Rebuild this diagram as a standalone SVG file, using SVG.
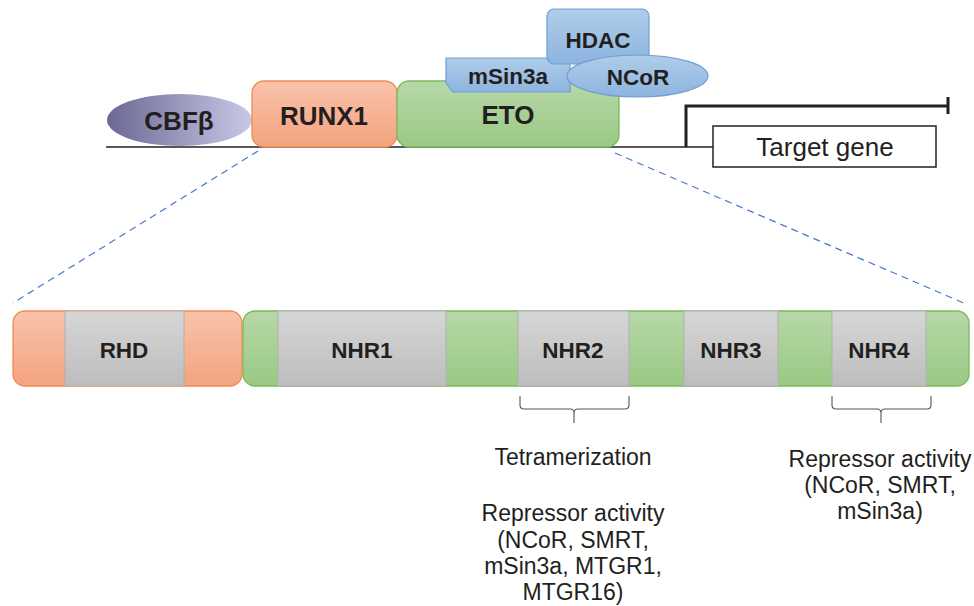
<svg xmlns="http://www.w3.org/2000/svg" width="974" height="606" viewBox="0 0 974 606">
<defs>
<linearGradient id="gCbf" x1="0" y1="0" x2="1" y2="0"><stop offset="0" stop-color="#6b6894"/><stop offset="1" stop-color="#cac8e6"/></linearGradient>
<linearGradient id="gOr" x1="0" y1="0" x2="0" y2="1"><stop offset="0" stop-color="#f8c3ab"/><stop offset="1" stop-color="#f4a37e"/></linearGradient>
<linearGradient id="gGr" x1="0" y1="0" x2="0" y2="1"><stop offset="0" stop-color="#b7d8a8"/><stop offset="1" stop-color="#9ac983"/></linearGradient>
<linearGradient id="gBl" x1="0" y1="0" x2="0" y2="1"><stop offset="0" stop-color="#b0cdea"/><stop offset="1" stop-color="#8db4df"/></linearGradient>
<linearGradient id="gGy" x1="0" y1="0" x2="0" y2="1"><stop offset="0" stop-color="#d6d6d6"/><stop offset="1" stop-color="#bdbdbd"/></linearGradient>
</defs>
<style>
.b{font-family:"Liberation Sans",Arial,sans-serif;font-weight:bold;fill:#231f20;text-anchor:middle}
.n{font-family:"Liberation Sans",Arial,sans-serif;fill:#231f20;text-anchor:middle;font-size:23px}
.or{fill:url(#gOr);stroke:#ee8c52;stroke-width:1.3}
.gr{fill:url(#gGr);stroke:#7cb85c;stroke-width:1.3}
.bl{fill:url(#gBl);stroke:#6c9fd3;stroke-width:1.2}
.gy{fill:url(#gGy);stroke:#b0b0b0;stroke-width:1}
.dash{stroke:#4a78c8;stroke-width:1.2;stroke-dasharray:7 5;fill:none}
.brace{stroke:#555;stroke-width:1.1;fill:none}
</style>
<g id="connectors">
<line x1="106" y1="147" x2="713" y2="147" stroke="#231f20" stroke-width="1.5"/>
<path d="M686,147 V106 H948" stroke="#231f20" stroke-width="3" fill="none"/>
<line x1="948" y1="97" x2="948" y2="114" stroke="#231f20" stroke-width="3"/>
<line class="dash" x1="258" y1="151" x2="13" y2="303"/>
<line class="dash" x1="615" y1="153" x2="966" y2="304"/>
<path class="brace" d="M520,396 V405 Q520,409 524,409 H570 Q574,409 574,413 V423 M574,413 Q574,409 578,409 H625 Q629,409 629,405 V396"/>
<path class="brace" d="M832,396 V405 Q832,409 836,409 H877 Q881,409 881,413 V423 M881,413 Q881,409 885,409 H927 Q931,409 931,405 V396"/>
</g>
<g id="cbfb"><ellipse cx="179.5" cy="120" rx="72.5" ry="26" fill="url(#gCbf)"/><text class="b" x="179" y="130" font-size="26">CBFβ</text></g>
<g id="runx1"><rect class="or" x="252" y="81" width="145" height="66" rx="12"/><text class="b" x="324" y="125" font-size="26">RUNX1</text></g>
<g id="eto"><rect class="gr" x="397" y="81" width="222" height="66" rx="12"/><text class="b" x="508" y="124" font-size="26">ETO</text></g>
<g id="msin3a"><path class="bl" d="M446,58 H570 V92 H453 L446,83 Z"/><text class="b" x="508" y="84" font-size="22.5">mSin3a</text></g>
<g id="hdac"><rect class="bl" x="547" y="9" width="102" height="55" rx="7"/><text class="b" x="598" y="48" font-size="22.5">HDAC</text></g>
<g id="ncor"><ellipse class="bl" cx="637.5" cy="76" rx="70.5" ry="21"/><text class="b" x="638" y="85" font-size="22.5">NCoR</text></g>
<g id="target"><rect x="713" y="126" width="223" height="41" fill="#fff" stroke="#231f20" stroke-width="1.5"/><text class="n" x="825" y="156" style="font-size:26px">Target gene</text></g>
<g id="runx1-bar">
<rect class="or" x="13" y="311" width="229" height="75" rx="12"/>
<rect class="gy" x="65" y="311" width="119" height="75"/>
<text class="b" x="124" y="358" font-size="22.5">RHD</text>
</g>
<g id="eto-bar">
<rect class="gr" x="243" y="311" width="726" height="75" rx="12"/>
<rect class="gy" x="278" y="311" width="168" height="75"/>
<rect class="gy" x="518" y="311" width="111" height="75"/>
<rect class="gy" x="684" y="311" width="94" height="75"/>
<rect class="gy" x="832" y="311" width="94" height="75"/>
<text class="b" x="362" y="358" font-size="22.5">NHR1</text>
<text class="b" x="573" y="358" font-size="22.5">NHR2</text>
<text class="b" x="731" y="358" font-size="22.5">NHR3</text>
<text class="b" x="879" y="358" font-size="22.5">NHR4</text>
</g>
<g id="nhr2-notes">
<text class="n" x="573" y="465">Tetramerization</text>
<text class="n" x="573" y="521">Repressor activity</text>
<text class="n" x="573" y="548">(NCoR, SMRT,</text>
<text class="n" x="573" y="574">mSin3a, MTGR1,</text>
<text class="n" x="573" y="600">MTGR16)</text>
</g>
<g id="nhr4-notes">
<text class="n" x="880" y="467">Repressor activity</text>
<text class="n" x="880" y="493">(NCoR, SMRT,</text>
<text class="n" x="880" y="519">mSin3a)</text>
</g>
</svg>
